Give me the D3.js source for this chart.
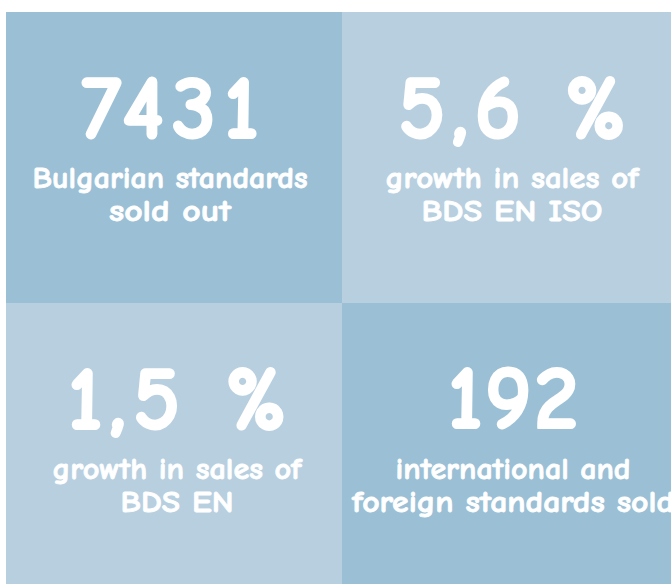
<!DOCTYPE html>
<html><head><meta charset="utf-8">
<script src="https://cdn.jsdelivr.net/npm/d3@7"></script>
<style>html,body{margin:0;padding:0;background:#fff;overflow:hidden}</style>
</head><body>
<svg id="c" width="671" height="584"></svg>
<script>
const values = ["7431", "5,6 %", "1,5 %", "192"];
const labels = [
  ["Bulgarian standards", "sold out"],
  ["growth in sales of", "BDS EN ISO"],
  ["growth in sales of", "BDS EN"],
  ["international and", "foreign standards sold"]
];
const shade = [0, 1, 1, 0];
const colIdx = [0, 1, 0, 1];
const rowIdx = [0, 0, 1, 1];

const svg = d3.select("#c");
const colors = ["#9bc0d5", "#b8cfdf"];
const xEdges = [[6, 342], [342, 671]];
const yEdges = [[12, 303], [303, 584]];
const font = "'Comic Sans MS','Comic Neue','DejaVu Sans',sans-serif";

// measured widths of text to fit
const valueW = [178, 228, 219, 131];
const labelW = [[275, 122], [253, 181], [249, 113], [235, 322]];
const centers = [170, 512, 177, 513];
const valueBase = [126, 126, 126, 125];

const g = svg.selectAll("g.tile").data(values).join("g").attr("class","tile");
g.append("rect")
  .attr("x", (d,i) => xEdges[colIdx[i]][0])
  .attr("y", (d,i) => yEdges[rowIdx[i]][0])
  .attr("width", (d,i) => xEdges[colIdx[i]][1]-xEdges[colIdx[i]][0])
  .attr("height", (d,i) => yEdges[rowIdx[i]][1]-yEdges[rowIdx[i]][0])
  .attr("fill", (d,i) => colors[shade[i]]);

g.append("text")
  .attr("x", (d,i) => centers[i])
  .attr("y", (d,i) => yEdges[rowIdx[i]][0] + valueBase[i])
  .attr("text-anchor","middle")
  .attr("font-family", font).attr("font-weight","bold")
  .attr("font-size", 90).attr("fill","#fff")
  .attr("stroke","#fff").attr("stroke-width",2).attr("stroke-linejoin","round")
  .attr("textLength", (d,i)=>valueW[i]).attr("lengthAdjust","spacing")
  .text(d => d);

g.each(function(d,i){
  const sel = d3.select(this);
  labels[i].forEach((t,j) => {
    sel.append("text")
      .attr("x", centers[i])
      .attr("y", yEdges[rowIdx[i]][0] + 176 + j*33)
      .attr("text-anchor", "middle")
      .attr("font-family", font).attr("font-weight","bold")
      .attr("font-size", 31).attr("fill","#fff")
      .attr("stroke","#fff").attr("stroke-width",0.8).attr("stroke-linejoin","round")
      .attr("textLength", labelW[i][j]).attr("lengthAdjust","spacingAndGlyphs")
      .text(t);
  });
});
</script>
</body></html>
